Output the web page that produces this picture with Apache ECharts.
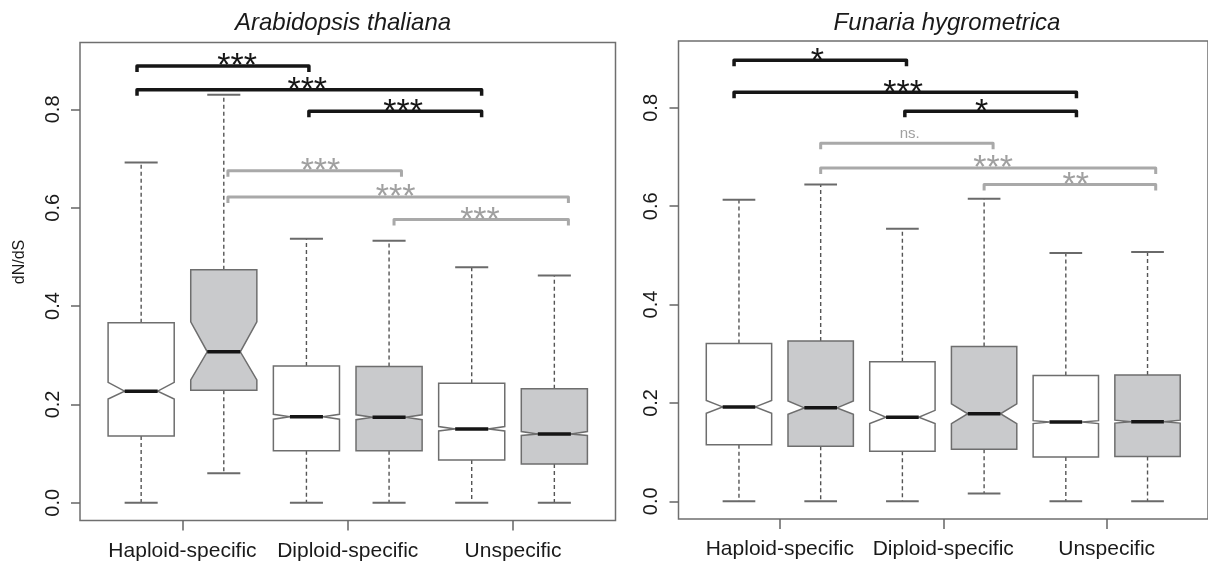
<!DOCTYPE html>
<html>
<head>
<meta charset="utf-8">
<script src="https://cdn.jsdelivr.net/npm/echarts@6/dist/echarts.min.js"></script>
<style>
  html, body { margin: 0; padding: 0; background: #fff; }
  #main { width: 1208px; height: 564px; }
</style>
</head>
<body>
<div id="main"></div>
<script>
const groups = ['Haploid-specific', 'Diploid-specific', 'Unspecific'];
const groupPos = [1.5, 3.5, 5.5];
const yTicks = [0, 0.2, 0.4, 0.6, 0.8];
const panelTitles = ['Arabidopsis thaliana', 'Funaria hygrometrica'];

// per box: [lower whisker, Q1, notch low, median, notch high, Q3, upper whisker]
const athStats = [
  [0,     0.136, 0.211, 0.227, 0.245, 0.366, 0.692],
  [0.060, 0.229, 0.250, 0.307, 0.368, 0.474, 0.830],
  [0,     0.106, 0.170, 0.175, 0.180, 0.278, 0.537],
  [0,     0.106, 0.169, 0.174, 0.179, 0.277, 0.533],
  [0,     0.087, 0.146, 0.150, 0.155, 0.243, 0.479],
  [0,     0.079, 0.137, 0.140, 0.145, 0.232, 0.462]
];
const fhyStats = [
  [0,     0.115, 0.179, 0.192, 0.205, 0.321, 0.613],
  [0,     0.112, 0.177, 0.190, 0.204, 0.326, 0.644],
  [0,     0.102, 0.158, 0.171, 0.185, 0.284, 0.554],
  [0.016, 0.106, 0.158, 0.178, 0.198, 0.315, 0.615],
  [0,     0.090, 0.158, 0.161, 0.164, 0.256, 0.505],
  [0,     0.091, 0.159, 0.162, 0.165, 0.257, 0.507]
];

// significance brackets: [from, to, level, label x]; first three compare white boxes
const athSig = [
  [0.95, 3.03, 0.888, 2.16],
  [0.95, 5.12, 0.840, 3.01],
  [3.03, 5.12, 0.796, 4.17],
  [2.05, 4.15, 0.675, 3.17],
  [2.05, 6.17, 0.622, 4.08],
  [4.06, 6.17, 0.576, 5.10]
];
const athSigLabels = ['***', '***', '***', '***', '***', '***'];
const fhySig = [
  [0.94, 3.05, 0.897, 1.96],
  [0.94, 5.13, 0.832, 3.01],
  [3.03, 5.13, 0.793, 3.97],
  [2.00, 4.11, 0.728, 3.09],
  [2.00, 6.10, 0.678, 4.11],
  [4.00, 6.10, 0.644, 5.12]
];
const fhySigLabels = ['*', '***', '*', 'ns.', '***', '**'];

const FONT = 'Liberation Sans, Arial, Helvetica, sans-serif';
const chart = echarts.init(document.getElementById('main'), null, { renderer: 'canvas' });

function renderBox(params, api) {
  const x = api.value(0);
  const lo = api.value(1), q1 = api.value(2), nlo = api.value(3), med = api.value(4);
  const nhi = api.value(5), q3 = api.value(6), hi = api.value(7);
  const half = api.size([0.8, 0])[0] / 2;
  const px = api.coord([x, 0])[0];
  const py = v => api.coord([x, v])[1];
  const grey = params.dataIndex % 2 === 1;
  const pts = [
    [px - half, py(q1)], [px - half, py(nlo)], [px - half / 2, py(med)], [px - half, py(nhi)],
    [px - half, py(q3)], [px + half, py(q3)], [px + half, py(nhi)], [px + half / 2, py(med)],
    [px + half, py(nlo)], [px + half, py(q1)]
  ];
  const dash = { stroke: '#555', lineWidth: 1.4, lineDash: [4, 3] };
  const cap = { stroke: '#6a6a6a', lineWidth: 2 };
  return {
    type: 'group',
    children: [
      { type: 'line', shape: { x1: px, y1: py(q3), x2: px, y2: py(hi) }, style: dash },
      { type: 'line', shape: { x1: px, y1: py(q1), x2: px, y2: py(lo) }, style: dash },
      { type: 'line', shape: { x1: px - half / 2, y1: py(hi), x2: px + half / 2, y2: py(hi) }, style: cap },
      { type: 'line', shape: { x1: px - half / 2, y1: py(lo), x2: px + half / 2, y2: py(lo) }, style: cap },
      { type: 'polygon', shape: { points: pts },
        style: { fill: grey ? '#c9cacc' : '#ffffff', stroke: '#6e6e6e', lineWidth: 1.5 } },
      { type: 'line', shape: { x1: px - half / 2, y1: py(med), x2: px + half / 2, y2: py(med) },
        style: { stroke: '#151515', lineWidth: 3.5 } }
    ]
  };
}

function sigRenderer(labels) {
  return function (params, api) {
    const x1 = api.coord([api.value(0), 0])[0];
    const x2 = api.coord([api.value(1), 0])[0];
    const y = api.coord([0, api.value(2)])[1];
    const lx = api.coord([api.value(3), 0])[0];
    const label = labels[params.dataIndex];
    const dark = params.dataIndex < 3;
    const col = dark ? '#161616' : '#a9a9a9';
    const txtCol = dark ? '#161616' : '#a0a0a0';
    const isNs = label === 'ns.';
    return {
      type: 'group',
      children: [
        { type: 'polyline', shape: { points: [[x1, y + 6], [x1, y], [x2, y], [x2, y + 6]] },
          style: { stroke: col, lineWidth: dark ? 3.5 : 3, fill: null, lineJoin: 'round' } },
        { type: 'text', x: lx, y: isNs ? y - 9 : y + 1,
          style: { text: label, fill: txtCol, font: (isNs ? '15px ' : '34px ') + FONT,
                   align: 'center', verticalAlign: 'middle' } }
      ]
    };
  };
}

function xAxisFor(i) {
  return {
    type: 'value', gridIndex: i, min: 0.26, max: 6.74,
    axisLine: { show: false, onZero: false },
    splitLine: { show: false },
    axisTick: { show: true, length: 10, customValues: groupPos, lineStyle: { color: '#666', width: 1.5 } },
    axisLabel: {
      show: true, customValues: groupPos, margin: 20,
      fontFamily: FONT, fontSize: 21, color: '#1a1a1a',
      formatter: v => groups[groupPos.indexOf(v)]
    }
  };
}

function yAxisFor(i) {
  return {
    type: 'value', gridIndex: i, min: -0.036, max: 0.936,
    axisLine: { show: false, onZero: false },
    splitLine: { show: false },
    axisTick: { show: true, length: 9, customValues: yTicks, lineStyle: { color: '#666', width: 1.5 } },
    axisLabel: {
      show: true, customValues: yTicks, rotate: 90, margin: 17,
      fontFamily: FONT, fontSize: 20, color: '#1a1a1a',
      formatter: v => v.toFixed(1)
    }
  };
}

const option = {
  backgroundColor: '#fff',
  animation: false,
  title: panelTitles.map((t, i) => ({
    text: t,
    left: i === 0 ? 338 : 942,
    top: 6,
    textAlign: 'center',
    textStyle: { fontFamily: FONT, fontStyle: 'italic', fontWeight: 'normal', fontSize: 24, color: '#1a1a1a' }
  })),
  graphic: [{
    type: 'text', x: 20, y: 262, rotation: Math.PI / 2,
    style: { text: 'dN/dS', font: '16px ' + FONT, fill: '#1a1a1a', align: 'center', verticalAlign: 'middle' }
  }],
  grid: [
    { left: 80, top: 42.5, width: 535.5, height: 478, show: true, borderColor: '#6f6f6f', borderWidth: 1.5, backgroundColor: 'transparent' },
    { left: 678.5, top: 41, width: 535, height: 478, show: true, borderColor: '#6f6f6f', borderWidth: 1.5, backgroundColor: 'transparent' }
  ],
  xAxis: [xAxisFor(0), xAxisFor(1)],
  yAxis: [yAxisFor(0), yAxisFor(1)],
  series: [
    {
      type: 'custom', name: 'A. thaliana', xAxisIndex: 0, yAxisIndex: 0,
      renderItem: renderBox, encode: { x: 0, y: [1, 2, 3, 4, 5, 6, 7] },
      data: athStats.map((s, i) => [i + 1].concat(s))
    },
    {
      type: 'custom', name: 'F. hygrometrica', xAxisIndex: 1, yAxisIndex: 1,
      renderItem: renderBox, encode: { x: 0, y: [1, 2, 3, 4, 5, 6, 7] },
      data: fhyStats.map((s, i) => [i + 1].concat(s))
    },
    {
      type: 'custom', xAxisIndex: 0, yAxisIndex: 0,
      renderItem: sigRenderer(athSigLabels), encode: { x: [0, 1, 3], y: 2 },
      data: athSig
    },
    {
      type: 'custom', xAxisIndex: 1, yAxisIndex: 1,
      renderItem: sigRenderer(fhySigLabels), encode: { x: [0, 1, 3], y: 2 },
      data: fhySig
    }
  ]
};

chart.setOption(option);
</script>
</body>
</html>
